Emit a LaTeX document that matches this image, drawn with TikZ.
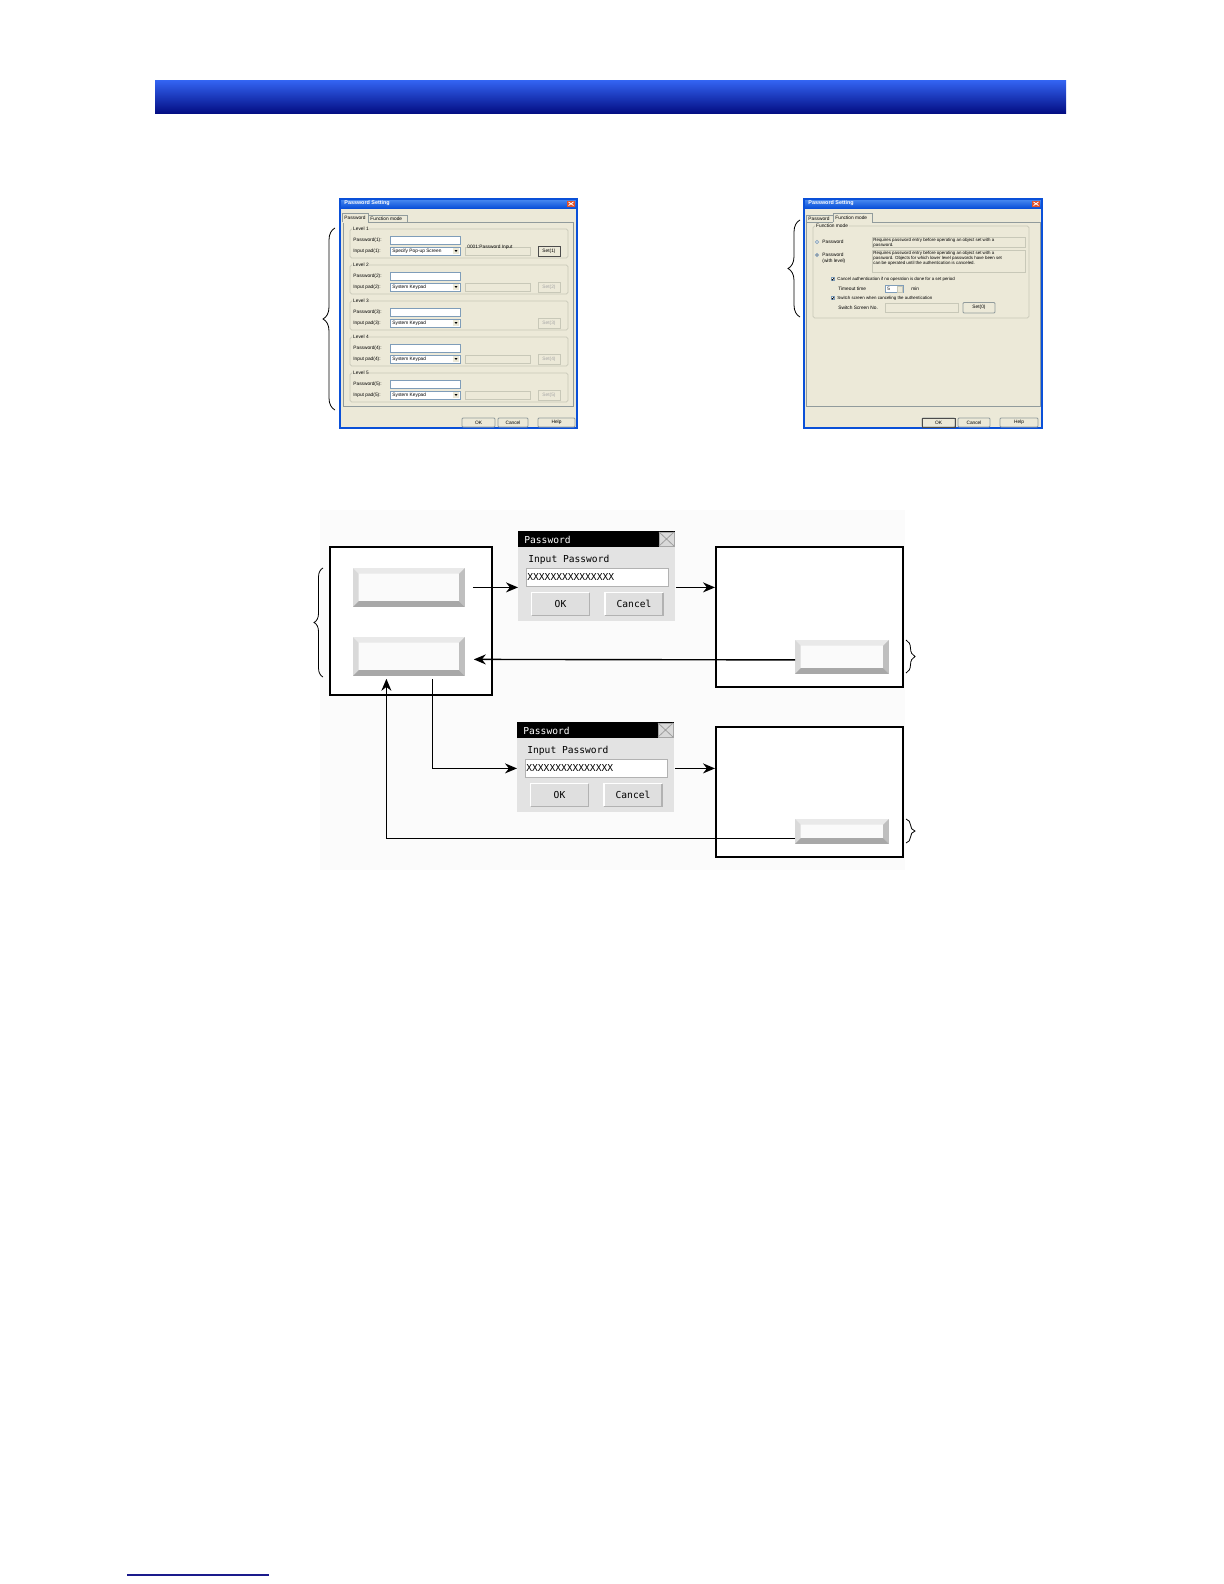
\documentclass[tikz,border=0pt]{standalone}
\usepackage{fontspec}
\setmainfont{Liberation Sans}
\newfontfamily\pixfont{DejaVu Sans Mono}
\usetikzlibrary{arrows.meta, decorations.pathreplacing}

\definecolor{bantop}{HTML}{3262F0}
\definecolor{banbot}{HTML}{020B80}
\definecolor{navyrule}{HTML}{1A1A8C}
\definecolor{xpbody}{HTML}{ECE9D8}
\definecolor{xpblue}{HTML}{0A50D8}
\definecolor{xptitle}{HTML}{4A8CF2}
\definecolor{xpred}{HTML}{E0502A}
\definecolor{grpline}{HTML}{C8C8B8}
\definecolor{fieldline}{HTML}{7F9DB9}
\definecolor{panelline}{HTML}{919B9C}

% bevel of a touch-panel button, drawn on a named node
\newcommand{\bevel}[1]{%
  \fill[gray!17] (#1.north west) -- (#1.north east) -- ([shift={(-2.8pt,-2.8pt)}]#1.north east) -- ([shift={(2.8pt,-2.8pt)}]#1.north west) -- cycle;
  \fill[gray!30] (#1.north west) -- ([shift={(2.8pt,-2.8pt)}]#1.north west) -- ([shift={(2.8pt,2.8pt)}]#1.south west) -- (#1.south west) -- cycle;
  \fill[gray!50] (#1.north east) -- (#1.south east) -- ([shift={(-2.8pt,2.8pt)}]#1.south east) -- ([shift={(-2.8pt,-2.8pt)}]#1.north east) -- cycle;
  \fill[gray!68] (#1.south west) -- ([shift={(2.8pt,2.8pt)}]#1.south west) -- ([shift={(-2.8pt,2.8pt)}]#1.south east) -- (#1.south east) -- cycle;}

% raised edge of a dialog button
\newcommand{\raised}[1]{%
  \draw[white, line width=0.8pt] (#1.south west) -- (#1.north west) -- (#1.north east);
  \draw[gray!60, line width=0.8pt] (#1.north east) -- (#1.south east) -- (#1.south west);}

% password pop-up: name, left, top (in px)
\newcommand{\pwdialog}[3]{%
  \begin{scope}[shift={(#2,#3)}]
    \node[dlgbody] (#1) at (0,0) {};
    \fill[black] (0,0) rectangle (157,16);
    \node[dlgtxt, text=white] at (6,8.5) {Password};
    \draw[gray!70, fill=gray!30] (141,1) rectangle (156,15);
    \draw[gray!75] (141,1) -- (156,15) (141,15) -- (156,1);
    \node[dlgtxt] at (10,29) {Input Password};
    \node[dlgfield] (#1f) at (8,37) {};
    \node[dlgtxt] at (9,46) {XXXXXXXXXXXXXXX};
    \node[dlgbtn] (#1ok) at (42.5,73) {OK};
    \node[dlgbtn] (#1cn) at (116,73) {Cancel};
    \raised{#1ok}\raised{#1cn}
  \end{scope}}

\begin{document}
\begin{tikzpicture}[x=0.5pt, y=-0.5pt, >={Stealth[length=6pt,width=5pt]},
  ui/.style={font=\fontsize{2.4}{2.8}\selectfont, anchor=west, inner sep=0pt},
  wtitle/.style={font=\bfseries\fontsize{2.7}{3}\selectfont, text=white, anchor=west, inner sep=0pt},
  screen/.style={draw, line width=0.8pt, fill=white, anchor=north west, inner sep=0pt},
  keybtn/.style={fill=gray!4, anchor=north west, inner sep=0pt, minimum width=55.5pt, minimum height=19pt},
  dlgbody/.style={fill=gray!22, anchor=north west, inner sep=0pt, minimum width=78.5pt, minimum height=45pt},
  dlgtxt/.style={font=\pixfont\fontsize{4.8}{5}\selectfont, anchor=west, inner sep=0pt},
  dlgfield/.style={draw=gray!60, fill=white, anchor=north west, inner sep=0pt, minimum width=71pt, minimum height=9pt},
  dlgbtn/.style={fill=gray!25, inner sep=0pt, minimum width=28.5pt, minimum height=11pt, font=\pixfont\fontsize{4.8}{5}\selectfont},
  flow/.style={line width=0.7pt},
  brace/.style={decorate, line width=0.4pt}]
  \useasboundingbox (0,0) rectangle (1224,1584);

  % header bar and footer rule
  \shade[top color=bantop, bottom color=banbot] (155,81) rectangle (1066,114);
  \draw[navyrule, line width=0.8pt] (127,1575) -- (269,1575);

  % ---- Password Setting window, Password tab
  \fill[xpbody] (340,199) rectangle (577,428);
  \shade[top color=xptitle, bottom color=xpblue] (340,199) rectangle (577,208);
  \draw[xpblue, line width=0.8pt] (340,199) rectangle (577,428);
  \node[wtitle] at (344,203.5) {Password Setting};
  \fill[xpred] (567,200.5) rectangle (575,207);
  \draw[white, line width=0.4pt] (568.5,202) -- (573.5,205.5) (568.5,205.5) -- (573.5,202);
  \draw[panelline] (343,222) rectangle (573,406);
  \draw[panelline] (368,222) -- (368,215) -- (407,215) -- (407,222);
  \node[ui] at (370,218.5) {Function mode};
  \fill[xpbody] (342,213) rectangle (368,222.5);
  \draw[panelline] (342,222) -- (342,213) -- (368,213) -- (368,222);
  \node[ui] at (344,217.5) {Password};
  \foreach \n/\gy/\pad in {1/229/Specify Pop-up Screen, 2/265/System Keypad,
      3/301/System Keypad, 4/337/System Keypad, 5/373/System Keypad}{
    \draw[grpline, rounded corners=0.8pt] (350,\gy) rectangle (568,\gy+29);
    \node[ui, fill=xpbody, inner xsep=0.4pt] at (352,\gy) {Level \n};
    \node[ui] at (353,\gy+11.5) {Password(\n):};
    \draw[fieldline, fill=white] (390,\gy+7.5) rectangle (460,\gy+15);
    \node[ui] at (353,\gy+22) {Input pad(\n):};
    \draw[fieldline, fill=white] (390,\gy+18) rectangle (460,\gy+26);
    \node[ui] at (392,\gy+22) {\pad};
    \fill[xpbody] (453,\gy+19) rectangle (459,\gy+25);
    \fill (454.5,\gy+21) -- (457.5,\gy+21) -- (456,\gy+23) -- cycle;
    \draw[grpline] (538,\gy+17) rectangle (560,\gy+27);
    \node[ui, anchor=center, text=gray!70] at (549,\gy+22) {Set(\n)};
  }
  \foreach \gy in {229,265,337,373}
    \draw[grpline] (465,\gy+18) rectangle (530,\gy+26);
  \node[ui] at (467,247) {0001:Password Input};
  \draw[black!70, fill=xpbody] (538,246) rectangle (560,256);
  \node[ui, anchor=center] at (549,251) {Set(1)};
  \foreach \bx/\bw/\bt in {462/495/OK, 498/528/Cancel, 538/575/Help}{
    \draw[panelline, fill=xpbody, rounded corners=0.5pt] (\bx,418) rectangle (\bw,427);
    \node[ui, anchor=center] at ({(\bx+\bw)/2},422.5) {\bt};
  }

  % ---- Password Setting window, Function mode tab
  \fill[xpbody] (804,199) rectangle (1042,428);
  \shade[top color=xptitle, bottom color=xpblue] (804,199) rectangle (1042,208);
  \draw[xpblue, line width=0.8pt] (804,199) rectangle (1042,428);
  \node[wtitle] at (808,203.5) {Password Setting};
  \fill[xpred] (1032,200.5) rectangle (1040,207);
  \draw[white, line width=0.4pt] (1033.5,202) -- (1038.5,205.5) (1033.5,205.5) -- (1038.5,202);
  \draw[panelline] (806,222) rectangle (1040,406);
  \draw[panelline] (806,222) -- (806,215) -- (833,215) -- (833,222);
  \node[ui] at (808,218.5) {Password};
  \fill[xpbody] (833,213) rectangle (872,222.5);
  \draw[panelline] (833,222) -- (833,213) -- (872,213) -- (872,222);
  \node[ui] at (835,217.5) {Function mode};
  \draw[grpline, rounded corners=0.8pt] (813,226) rectangle (1029,318);
  \node[ui, fill=xpbody, inner xsep=0.4pt] at (815,226) {Function mode};
  \draw[fieldline, fill=white] (817,242) circle (0.8pt);
  \node[ui] at (822,242) {Password};
  \draw[fieldline, fill=white] (817,255) circle (0.8pt);
  \fill (817,255) circle (0.35pt);
  \node[ui, align=left, anchor=north west] at (822,253) {Password\\(with level)};
  \draw[grpline] (872,237) rectangle (1025,247);
  \node[ui, align=left, anchor=north west, font=\fontsize{2.2}{2.6}\selectfont] at (873,238)
    {Requires password entry before operating an object set with a\\password.};
  \draw[grpline] (872,250) rectangle (1025,272);
  \node[ui, align=left, anchor=north west, font=\fontsize{2.2}{2.6}\selectfont] at (873,251)
    {Requires password entry before operating an object set with a\\password. Objects for which lower level passwords have been set\\can be operated until the authentication is canceled.};
  \foreach \cy in {279,298}{
    \draw[fieldline, fill=white] (831,\cy-1.75) rectangle (834.5,\cy+1.75);
    \draw[line width=0.3pt] (831.8,\cy) -- (832.6,\cy+1) -- (833.8,\cy-1);
  }
  \node[ui, font=\fontsize{2.2}{2.6}\selectfont] at (837,279) {Cancel authentication if no operation is done for a set period};
  \node[ui] at (838,289) {Timeout time};
  \draw[fieldline, fill=white] (885,285.5) rectangle (903,292.5);
  \node[ui] at (887,289) {5};
  \draw[grpline, fill=xpbody] (897,286) rectangle (902.5,292);
  \node[ui] at (911,289) {min};
  \node[ui, font=\fontsize{2.2}{2.6}\selectfont] at (837,298) {Switch screen when canceling the authentication};
  \node[ui] at (838,308) {Switch Screen No.};
  \draw[grpline] (885,303.5) rectangle (958,312);
  \draw[panelline, fill=xpbody, rounded corners=0.5pt] (963,302.5) rectangle (995,313);
  \node[ui, anchor=center] at (979,307.75) {Set(0)};
  \foreach \bx/\bw/\bt in {922/955/OK, 958/990/Cancel, 1000/1038/Help}{
    \draw[panelline, fill=xpbody, rounded corners=0.5pt] (\bx,418) rectangle (\bw,427);
    \node[ui, anchor=center] at ({(\bx+\bw)/2},422.5) {\bt};
  }
  \draw[black!70] (922,418) rectangle (955,427);

  % braces for the settings
  \draw[brace, decoration={brace, amplitude=6pt}] (335,410) -- (335,228);
  \draw[brace, decoration={brace, amplitude=6pt}] (800,317) -- (800,220);

  % ---- screen transitions
  \fill[black!1.5] (320,510) rectangle (905,870);
  \node[screen, minimum width=81pt, minimum height=74pt] (scrA) at (329,546) {};
  \node[keybtn] (btnA1) at (353,568) {};
  \node[keybtn] (btnA2) at (353,637) {};
  \node[screen, minimum width=93.5pt, minimum height=70pt] (scrB) at (715,546) {};
  \node[keybtn, minimum width=46.5pt, minimum height=16.5pt] (btnB) at (795,640) {};
  \node[screen, minimum width=93.5pt, minimum height=65pt] (scrC) at (715,726) {};
  \node[keybtn, minimum width=46.5pt, minimum height=12pt] (btnC) at (795,819) {};
  \foreach \b in {btnA1,btnA2,btnB,btnC}{\bevel{\b}}
  \pwdialog{dlgA}{518}{531}
  \pwdialog{dlgB}{517}{722}

  \draw[flow,->] ([xshift=4pt]btnA1.east) -- (btnA1.east -| dlgA.west);
  \draw[flow,->] (btnA1.east -| dlgA.east) -- (btnA1.east -| scrB.west);
  \draw[flow,->] ([yshift=-1.5pt]btnB.west) -- ([xshift=4.5pt,yshift=-1.5pt]btnA2.east);
  \draw[flow,->] ([xshift=11.75pt,yshift=-1.5pt]btnA2.south) |- (dlgBf.west -| dlgB.west);
  \draw[flow,->] (dlgBf.east -| dlgB.east) -- (dlgBf.east -| scrC.west);
  \draw[flow,->] ([yshift=-3.5pt]btnC.west) -| ([xshift=-11.25pt,yshift=-1.5pt]btnA2.south);

  \draw[brace, decoration={brace, amplitude=4.5pt}] (323,677) -- (323,568);
  \draw[brace, decoration={brace, amplitude=4.5pt}] (906,640) -- (906,673);
  \draw[brace, decoration={brace, amplitude=4.5pt}] (906,819) -- (906,843);
\end{tikzpicture}
\end{document}
